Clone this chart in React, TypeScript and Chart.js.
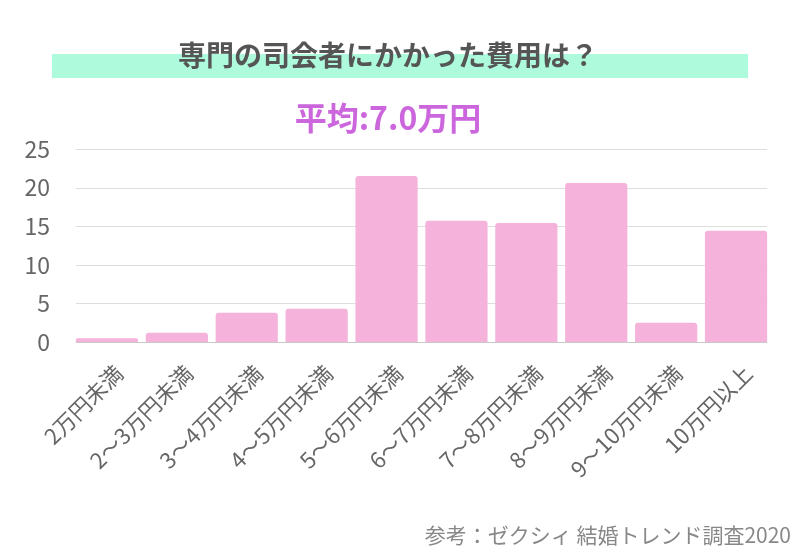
import React, { useEffect, useRef } from "react";
import { Chart, registerables } from "chart.js";

Chart.register(...registerables);

const categories = [
  "2万円未満",
  "2～3万円未満",
  "3～4万円未満",
  "4～5万円未満",
  "5～6万円未満",
  "6～7万円未満",
  "7～8万円未満",
  "8～9万円未満",
  "9～10万円未満",
  "10万円以上",
];
const values = [0.5, 1.2, 3.8, 4.3, 21.5, 15.7, 15.4, 20.6, 2.5, 14.4];
const yTicks = [0, 5, 10, 15, 20, 25];
const titleText = "専門の司会者にかかった費用は？";
const subtitleText = "平均:7.0万円";
const sourceText = "参考：ゼクシィ 結婚トレンド調査2020";

const FONT = "'Noto Sans CJK JP', 'Noto Sans', sans-serif";

const decorPlugin = {
  id: "decor",
  beforeDraw(chart: any) {
    const ctx = chart.ctx;
    ctx.save();
    ctx.fillStyle = "#ffffff";
    ctx.fillRect(0, 0, chart.width, chart.height);
    ctx.fillStyle = "#adfadc";
    ctx.fillRect(52, 54, 696, 24);
    ctx.fillStyle = "#555555";
    ctx.font = `bold 28px ${FONT}`;
    ctx.textAlign = "center";
    ctx.textBaseline = "middle";
    ctx.fillText(titleText, 388, 55);
    ctx.fillStyle = "#cc66dd";
    ctx.font = `bold 32px ${FONT}`;
    ctx.fillText(subtitleText, 388, 118);
    ctx.fillStyle = "#888888";
    ctx.font = `21px ${FONT}`;
    ctx.textAlign = "right";
    ctx.fillText(sourceText, 791, 535);
    ctx.restore();
  },
  beforeDatasetsDraw(chart: any) {
    const ctx = chart.ctx;
    const y = chart.scales.y;
    const x = chart.scales.x;
    const first = x.getPixelForValue(0);
    const last = x.getPixelForValue(categories.length - 1);
    const half = (x.getPixelForValue(1) - first) * 0.89 / 2;
    const left = first - half;
    const right = last + half;
    ctx.save();
    ctx.lineWidth = 1;
    yTicks.forEach((v) => {
      const py = Math.round(y.getPixelForValue(v)) + 0.5;
      ctx.strokeStyle = v === 0 ? "#c8c8c8" : "#dddddd";
      ctx.beginPath();
      ctx.moveTo(left, py);
      ctx.lineTo(right, py);
      ctx.stroke();
    });
    ctx.restore();
  },
};

export default function App() {
  const ref = useRef<HTMLCanvasElement>(null);
  useEffect(() => {
    if (!ref.current) return;
    const chart = new Chart(ref.current, {
      type: "bar",
      data: {
        labels: categories,
        datasets: [
          {
            data: values,
            backgroundColor: "#f5b3dc",
            borderRadius: 3,
            borderSkipped: "bottom",
            categoryPercentage: 1,
            barPercentage: 0.89,
          },
        ],
      },
      options: {
        responsive: false,
        animation: false,
        layout: { padding: { top: 149, right: 29, left: 0, bottom: 0 } },
        plugins: {
          legend: { display: false },
          tooltip: { enabled: false },
          title: { display: false },
        },
        scales: {
          x: {
            grid: { display: false },
            border: { display: false },
            ticks: {
              color: "#666666",
              font: { family: FONT, size: 22 },
              minRotation: 45,
              maxRotation: 45,
              autoSkip: false,
              padding: 10,
              labelOffset: 12,
            },
            afterFit(scale: any) {
              scale.height = 208;
            },
          },
          y: {
            min: 0,
            max: 25,
            ticks: {
              stepSize: 5,
              color: "#666666",
              font: { family: FONT, size: 23 },
              padding: 14,
            },
            grid: { display: false },
            border: { display: false },
            afterFit(scale: any) {
              scale.width = 72;
            },
          },
        },
      },
      plugins: [decorPlugin],
    });
    return () => chart.destroy();
  }, []);
  return (
    <div style={{ position: "absolute", left: 0, top: 0, width: 800, height: 550 }}>
      <canvas ref={ref} width={800} height={550} />
    </div>
  );
}
